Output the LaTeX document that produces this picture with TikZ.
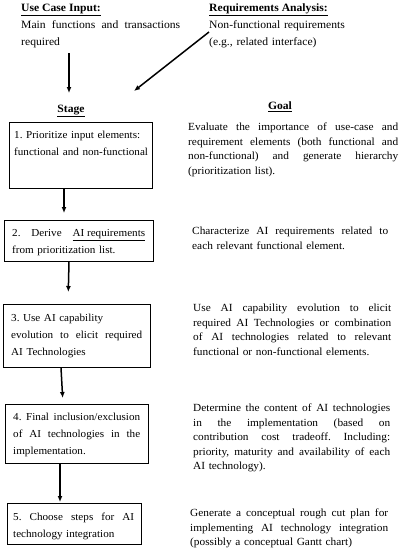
\documentclass[tikz,border=0pt]{standalone}
\usepackage{fontspec}
\setmainfont{Liberation Serif}[FakeStretch=1.04]
\usetikzlibrary{arrows.meta}
\newcommand{\jl}[2]{{\frenchspacing\spaceskip=0pt\xspaceskip=0pt\makebox[#1][s]{#2}}}
\tikzset{
  x=1pt, y=1pt,
  stagebox/.style={draw, line width=0.8pt, inner sep=0pt, anchor=north west},
  btext/.style={anchor=base west, inner sep=0pt, font=\fontsize{10.7}{17}\selectfont\frenchspacing, align=left},
  gtext/.style={anchor=base west, inner sep=0pt, font=\fontsize{10.9}{14.5}\selectfont\frenchspacing, align=left},
  ttext/.style={anchor=base west, inner sep=0pt, font=\fontsize{11.2}{16.5}\selectfont\frenchspacing, align=left},
  head/.style={inner sep=0pt, font=\fontsize{11.2}{14}\selectfont\bfseries},
  arr/.style={-{Latex[length=6pt,width=5pt]}, line width=1.5pt},
}
\begin{document}
\begin{tikzpicture}
\useasboundingbox (0,0) rectangle (403,-550);
% top inputs
\node[head, anchor=base west] (uci) at (21,-11.5) {\underline{Use Case Input:}};
\node[ttext, text width=159pt] (ucitxt) at (21,-28.5) {\jl{159pt}{Main functions and transactions}\\ required};
\node[head, anchor=base west] (ra) at (209,-11.5) {\underline{Requirements Analysis:}};
\node[ttext, text width=170pt] (ratxt) at (209,-28.5) {Non-functional requirements\\ (e.g., related interface)};
\coordinate (a1s) at (69,-53);
\coordinate (a1e) at (69,-93);
\coordinate (a2s) at (209,-32);
\coordinate (a2e) at (134,-91);
\draw[arr] (a1s) -- (a1e);
\draw[arr] (a2s) -- (a2e);
% column heads
\node[head, anchor=base] (stage) at (71,-112.5) {\underline{Stage}};
\node[head, anchor=base] (goal) at (280,-109.5) {\underline{Goal}};
% boxes
\node[stagebox, minimum width=143pt, minimum height=66pt] (b1) at (9,-122) {};
\node[stagebox, minimum width=149pt, minimum height=41pt] (b2) at (4,-220) {};
\node[stagebox, minimum width=147pt, minimum height=63pt] (b3) at (3,-304) {};
\node[stagebox, minimum width=143pt, minimum height=59pt] (b4) at (5,-404) {};
\node[stagebox, minimum width=134pt, minimum height=41pt] (b5) at (7,-503) {};
% box texts
\node[btext, text width=138pt] (t1) at (14,-138.5) {1. Prioritize input elements:\\ functional and non-functional};
\node[btext, text width=133pt] (t2) at (12,-236.5) {\jl{133pt}{2. Derive \underline{AI requirements}}\\ from prioritization list.};
\node[btext, text width=131pt] (t3) at (11,-321.5) {3. Use AI capability\\ \jl{131pt}{evolution to elicit required}\\ AI Technologies};
\node[btext, text width=127pt] (t4) at (13,-420.5) {\jl{127pt}{4. Final inclusion/exclusion}\\ \jl{127pt}{of AI technologies in the}\\ implementation.};
\node[btext, text width=121pt] (t5) at (13,-520.5) {\jl{121pt}{5. Choose steps for AI}\\ technology integration};
% goal texts
\node[gtext, text width=210pt] (g1) at (188,-130.5) {\jl{210pt}{Evaluate the importance of use-case and}\\ \jl{210pt}{requirement elements (both functional and}\\ \jl{210pt}{non-functional) and generate hierarchy}\\ (prioritization list).};
\node[gtext, text width=196pt] (g2) at (192,-234.5) {\jl{196pt}{Characterize AI requirements related to}\\ each relevant functional element.};
\node[gtext, text width=198pt] (g3) at (193,-311.5) {\jl{198pt}{Use AI capability evolution to elicit}\\ \jl{198pt}{required AI Technologies or combination}\\ \jl{198pt}{of AI technologies related to relevant}\\ functional or non-functional elements.};
\node[gtext, text width=197pt] (g4) at (193,-411.5) {\jl{197pt}{Determine the content of AI technologies}\\ \jl{197pt}{in the implementation (based on}\\ \jl{197pt}{contribution cost tradeoff. Including:}\\ \jl{197pt}{priority, maturity and availability of each}\\ AI technology).};
\node[gtext, text width=198pt] (g5) at (190,-516.5) {\jl{198pt}{Generate a conceptual rough cut plan for}\\ \jl{198pt}{implementing AI technology integration}\\ (possibly a conceptual Gantt chart)};
% stage arrows
\draw[arr, shorten >=7pt] ([xshift=55pt]b1.south west) -- ([xshift=60pt]b2.north west);
\draw[arr, shorten >=12pt] ([xshift=65pt]b2.south west) -- ([xshift=65pt]b3.north west);
\draw[arr, shorten >=6pt] ([xshift=58pt]b3.south west) -- ([xshift=58pt]b4.north west);
\draw[arr, shorten >=1pt] ([xshift=55pt]b4.south west) -- ([xshift=53pt]b5.north west);
\end{tikzpicture}
\end{document}
